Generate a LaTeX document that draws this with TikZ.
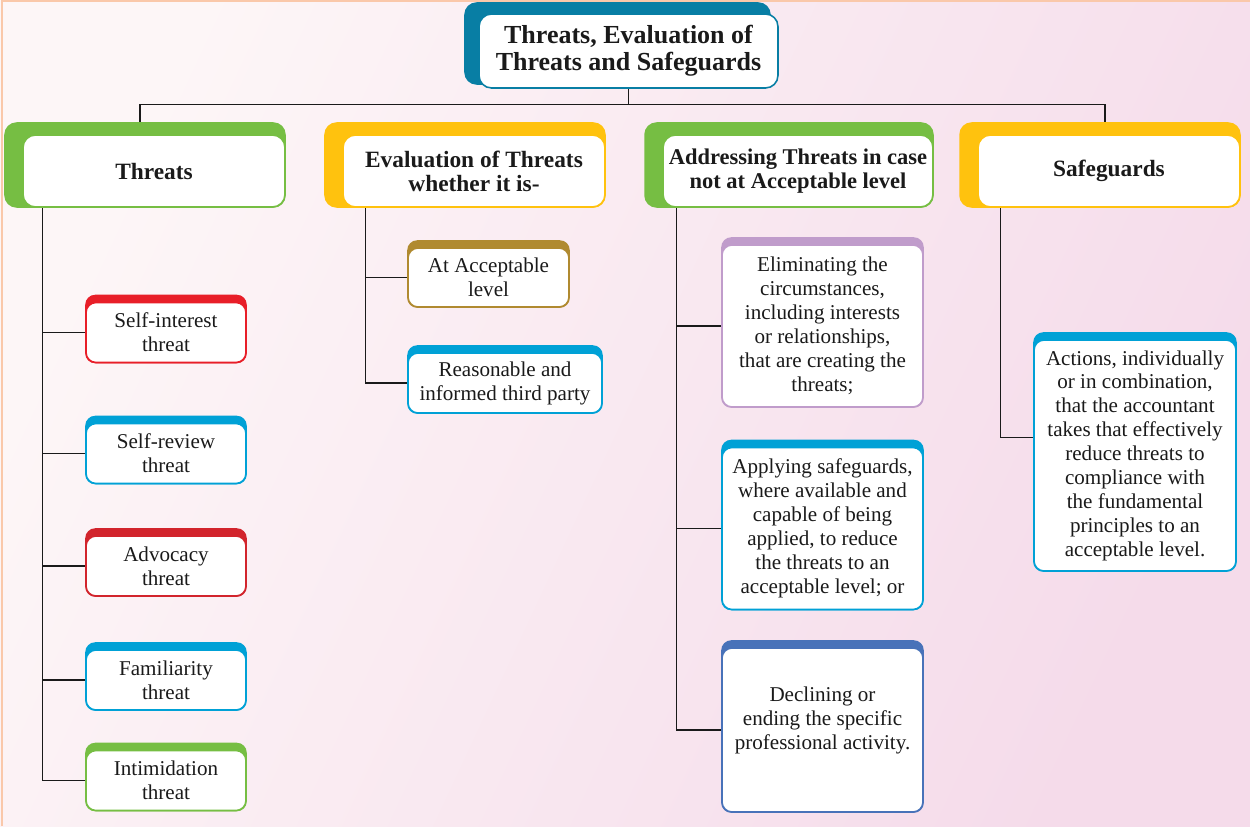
\documentclass[tikz,border=0pt]{standalone}
\usepackage{fontspec}
\setmainfont{Liberation Serif}
\definecolor{ink}{RGB}{26,26,26}
\definecolor{tealT}{RGB}{8,126,164}
\definecolor{greenT}{RGB}{118,190,67}
\definecolor{yellowT}{RGB}{255,194,14}
\definecolor{redT}{RGB}{232,30,40}
\definecolor{crimsonT}{RGB}{210,36,44}
\definecolor{blueT}{RGB}{0,161,214}
\definecolor{brownT}{RGB}{176,138,48}
\definecolor{purpleT}{RGB}{192,156,203}
\definecolor{indigoT}{RGB}{72,114,185}
\definecolor{bgL}{RGB}{253,246,247}
\definecolor{bgR}{RGB}{245,219,234}
\definecolor{edgeO}{RGB}{250,200,170}
\pgfdeclarelayer{bg}
\pgfdeclarelayer{links}
\pgfdeclarelayer{tabs}
\pgfsetlayers{bg,links,tabs,main}

\begin{document}
\begin{tikzpicture}[x=0.02cm, y=-0.02cm, every node/.style={text=ink},
	box/.style={draw=#1, fill=white, line width=0.9pt, rounded corners=0.2cm, align=center, inner sep=2pt, font=\fontsize{12}{13.6}\selectfont},
	head/.style={box=#1, rounded corners=0.25cm, minimum width=5.24cm, minimum height=1.44cm, font=\fontsize{13.3}{13.8}\selectfont\bfseries},
	tbox/.style={box=#1, minimum width=3.2cm, minimum height=1.2cm},
	abox/.style={box=#1, minimum width=4.02cm, minimum height=3.24cm},
	conn/.style={draw=ink, line width=0.8pt}]
	\useasboundingbox (0,0) rectangle (1250,826);
	\begin{pgfonlayer}{bg}
		\shade[left color=bgL, right color=bgR, shading angle=65] (0,0) rectangle (1250,826);
		\draw[edgeO, line width=1pt] (2,826) -- (2,1) -- (1250,1);
	\end{pgfonlayer}
	% title and headers
	\node[box=tealT, rounded corners=0.25cm, minimum width=5.98cm, minimum height=1.48cm, font=\fontsize{14.8}{15.3}\selectfont\bfseries] (title) at (628.5,51) {Threats, Evaluation of\\Threats and Safeguards};
	\node[head=greenT] (thr) at (154,171) {Threats};
	\node[head=yellowT] (eval) at (474,171) {Evaluation of Threats\\whether it is-};
	\node[head=greenT, minimum width=5.4cm, font=\fontsize{12.8}{13.8}\selectfont\bfseries] (addr) at (798,171) {Addressing Threats in case\\not at Acceptable level};
	\node[head=yellowT] (safe) at (1109,171) {Safeguards};
	% threats column
	\node[tbox=redT] (selfint) at (166,332.5) {Self-interest\\threat};
	\node[tbox=blueT] (selfrev) at (166,453.5) {Self-review\\threat};
	\node[tbox=crimsonT] (advo) at (166,566) {Advocacy\\threat};
	\node[tbox=blueT] (famil) at (166,680) {Familiarity\\threat};
	\node[tbox=greenT] (intim) at (166,780.5) {Intimidation\\threat};
	% evaluation column
	\node[tbox=brownT, minimum width=3.22cm, minimum height=1.18cm] (accept) at (488.5,277.5) {At Acceptable\\level};
	\node[tbox=blueT, minimum width=3.88cm] (third) at (505,383) {Reasonable and\\informed third party};
	% addressing column
	\node[abox=purpleT] (elim) at (822.5,326) {Eliminating the\\circumstances,\\including interests\\or relationships,\\that are creating the\\threats;};
	\node[abox=blueT] (apply) at (822.5,528.5) {Applying safeguards,\\where available and\\capable of being\\applied, to reduce\\the threats to an\\acceptable level; or};
	\node[abox=indigoT, minimum height=3.28cm] (decline) at (822.5,730) {Declining or\\ending the specific\\professional activity.\\ \mbox{}};
	% safeguards column
	\node[abox=blueT, minimum width=4.04cm, minimum height=4.62cm] (action) at (1135,455.5) {Actions, individually\\or in combination,\\that the accountant\\takes that effectively\\reduce threats to\\compliance with\\the fundamental\\principles to an\\acceptable level.};
	% coloured tabs
	\begin{pgfonlayer}{tabs}
		\fill[tealT, rounded corners=0.25cm] ([xshift=-0.28cm,yshift=0.22cm]title.north west) rectangle ([xshift=-0.16cm,yshift=0.08cm]title.south east);
		\foreach \n/\c in {thr/greenT, eval/yellowT, addr/greenT, safe/yellowT}
			\fill[\c, rounded corners=0.25cm] ([xshift=-0.36cm,yshift=0.24cm]\n.north west) rectangle (\n.south east);
		\foreach \n/\c in {selfint/redT, selfrev/blueT, advo/crimsonT, famil/blueT, intim/greenT, accept/brownT, third/blueT, elim/purpleT, apply/blueT, decline/indigoT, action/blueT}
			\fill[\c, rounded corners=0.2cm] ([yshift=0.14cm]\n.north west) rectangle (\n.south east);
	\end{pgfonlayer}
	% connectors
	\begin{pgfonlayer}{links}
		\draw[conn] (title.south) -- ++(0,16) coordinate (bus);
		\draw[conn] (bus) -| ([xshift=-0.28cm]thr.north);
		\draw[conn] (bus) -| ([xshift=-0.08cm]safe.north);
		\foreach \b in {selfint, selfrev, advo, famil, intim}
			\draw[conn] ([xshift=0.4cm]thr.south west) |- (\b.west);
		\foreach \b in {accept, third}
			\draw[conn] ([xshift=0.46cm]eval.south west) |- (\b.west);
		\foreach \b in {elim, apply, decline}
			\draw[conn] ([xshift=0.28cm]addr.south west) |- (\b.west);
		\draw[conn] ([xshift=0.46cm]safe.south west) |- ([yshift=0.36cm]action.west);
	\end{pgfonlayer}
\end{tikzpicture}
\end{document}
